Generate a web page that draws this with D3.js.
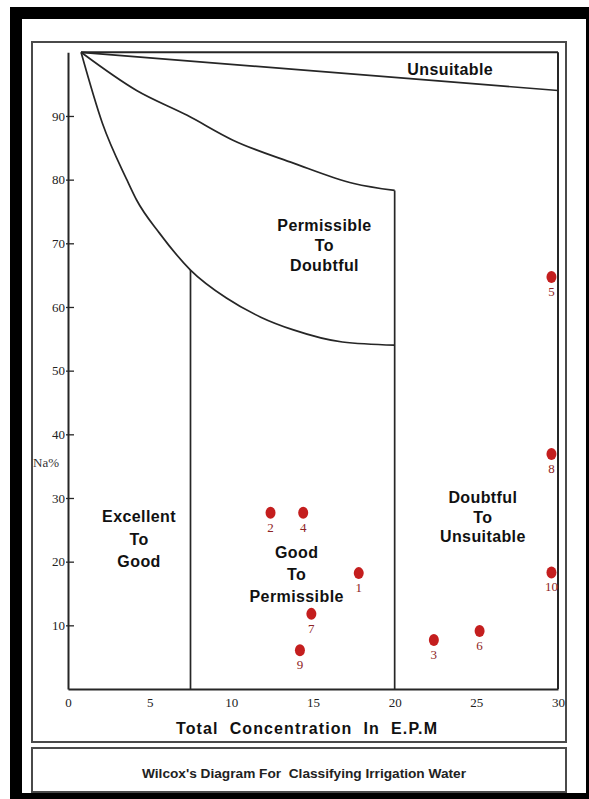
<!DOCTYPE html>
<html>
<head>
<meta charset="utf-8">
<script src="https://cdn.jsdelivr.net/npm/d3@7/dist/d3.min.js"></script>
<style>
  html, body { margin: 0; padding: 0; background: #fff; }
  svg { display: block; }
</style>
</head>
<body>
<svg id="chart" width="589" height="799"></svg>
<script>
// ---- Data -------------------------------------------------------------
// Sample numbers
const sampleIds = ["1", "2", "3", "4", "5", "6", "7", "8", "9", "10"];
// Total concentration (E.P.M)
const sampleEpm = [17.8, 12.4, 22.4, 14.4, 29.6, 25.2, 14.9, 29.6, 14.2, 29.6];
// Sodium percentage
const sampleNa = [18.2, 27.7, 7.7, 27.7, 64.7, 9.1, 11.8, 36.9, 6.1, 18.3];

// Class boundaries, as [E.P.M, Na%] pairs
const unsuitableLine = [[0.8, 100], [30, 94]];
const upperCurve = [[0.8, 100], [4.2, 94.0], [7.3, 90.1], [10.1, 86.2], [13.8, 82.6], [17.5, 79.4], [20, 78.3]];
const lowerCurve = [[0.8, 100], [2.1, 88.9], [3.6, 80.0], [4.2, 76.8], [5.6, 71.6], [7.5, 65.8], [9.7, 61.4],
                    [11.8, 58.4], [13.8, 56.4], [16.8, 54.5], [20, 54.0]];
const goodLimitEpm = 7.5;
const permissibleLimitEpm = 20;

// Axis ticks
const xTicks = [0, 5, 10, 15, 20, 25, 30];
const yTicks = [10, 20, 30, 40, 50, 60, 70, 80, 90];

// Class names (one entry per line)
const classNames = [
  ["Unsuitable"],
  ["Permissible", "To", "Doubtful"],
  ["Excellent", "To", "Good"],
  ["Good", "To", "Permissible"],
  ["Doubtful", "To", "Unsuitable"]
];

const xTitle = "Total  Concentration  In  E.P.M";
const yTitle = "Na%";
const caption = "Wilcox's Diagram For  Classifying Irrigation Water";

// ---- Layout -------------------------------------------------------------
// Anchor of each class name block: [E.P.M, Na% of first baseline, line gap px]
const classAnchors = [
  [30 - 6.6, 96.5, 0],
  [15.7, 72.0, 20],
  [4.35, 26.2, 22.5],
  [14.0, 20.6, 22],
  [25.4, 29.2, 19.5]
];

const svg = d3.select("#chart");

const x = d3.scaleLinear().domain([0, 30]).range([68, 558]);
const y = d3.scaleLinear().domain([0, 100]).range([689, 52.3]);

// Black photo frame
svg.append("rect").attr("x", 10).attr("y", 7).attr("width", 600).attr("height", 800).attr("fill", "#000");
svg.append("rect").attr("x", 22).attr("y", 19).attr("width", 564).attr("height", 774).attr("fill", "#fff");

// Outer boxes
svg.append("rect").attr("x", 32).attr("y", 42).attr("width", 534).attr("height", 700)
  .attr("fill", "none").attr("stroke", "#4a4a4a").attr("stroke-width", 2);
svg.append("rect").attr("x", 32).attr("y", 748).attr("width", 534).attr("height", 44)
  .attr("fill", "none").attr("stroke", "#4a4a4a").attr("stroke-width", 2);

const ink = "#262626";

// Y axis
const yAxis = d3.axisLeft(y).tickValues(yTicks).tickSize(-6).tickSizeOuter(0).tickPadding(3).tickFormat(d3.format("d"));
const gy = svg.append("g").attr("transform", `translate(${x(0)},0)`).call(yAxis);
gy.select(".domain").attr("stroke", ink).attr("stroke-width", 2);
gy.selectAll(".tick line").attr("x1", -2).attr("stroke", ink).attr("stroke-width", 1.3);
gy.selectAll(".tick text").attr("font-family", "'Liberation Serif', 'DejaVu Serif', serif")
  .attr("font-size", 13).attr("fill", "#222");

// X axis
const xAxis = d3.axisBottom(x).tickValues(xTicks).tickSize(0).tickSizeOuter(0).tickPadding(9).tickFormat(d3.format("d"));
const gx = svg.append("g").attr("transform", `translate(0,${y(0)})`).call(xAxis);
gx.select(".domain").attr("stroke", ink).attr("stroke-width", 2);
gx.selectAll(".tick text").attr("font-family", "'Liberation Serif', 'DejaVu Serif', serif")
  .attr("font-size", 13).attr("fill", "#222");

// Plot frame: top and right edges
const line = d3.line().x(d => x(d[0])).y(d => y(d[1]));
svg.append("path").datum([[0.8, 100], [30, 100]]).attr("d", line)
  .attr("fill", "none").attr("stroke", ink).attr("stroke-width", 2);
svg.append("path").datum([[30, 100], [30, 0]]).attr("d", line)
  .attr("fill", "none").attr("stroke", ink).attr("stroke-width", 2);

// Boundaries
const curve = d3.line().x(d => x(d[0])).y(d => y(d[1])).curve(d3.curveMonotoneX);
[unsuitableLine, upperCurve, lowerCurve].forEach(pts => {
  svg.append("path").datum(pts).attr("d", curve)
    .attr("fill", "none").attr("stroke", ink).attr("stroke-width", 1.7);
});
const lowerAt = e => lowerCurve.find(p => p[0] === e)[1];
svg.append("path").datum([[goodLimitEpm, lowerAt(goodLimitEpm)], [goodLimitEpm, 0]]).attr("d", line)
  .attr("fill", "none").attr("stroke", ink).attr("stroke-width", 1.7);
svg.append("path").datum([[permissibleLimitEpm, upperCurve[upperCurve.length - 1][1]], [permissibleLimitEpm, 0]]).attr("d", line)
  .attr("fill", "none").attr("stroke", ink).attr("stroke-width", 1.7);

// Class names
classNames.forEach((lines, i) => {
  const [ex, ny, gap] = classAnchors[i];
  const t = svg.append("text")
    .attr("font-family", "'Liberation Sans', Arial, sans-serif")
    .attr("font-weight", "bold").attr("font-size", 16)
    .attr("letter-spacing", 0.4).attr("fill", "#111")
    .attr("text-anchor", "middle");
  lines.forEach((s, k) => {
    t.append("tspan").attr("x", x(ex)).attr("y", y(ny) + k * gap).text(s);
  });
});

// Axis titles
svg.append("text").attr("x", 176).attr("y", 734)
  .attr("font-family", "'Liberation Sans', Arial, sans-serif").attr("font-weight", "bold")
  .attr("font-size", 16).attr("fill", "#111").style("white-space", "pre")
  .attr("textLength", 261).attr("lengthAdjust", "spacing").text(xTitle);
svg.append("text").attr("x", 33).attr("y", y(35.5) + 4)
  .attr("font-family", "'Liberation Serif', 'DejaVu Serif', serif")
  .attr("font-size", 13).attr("fill", "#333").text(yTitle);

// Caption
svg.append("text").attr("x", 142).attr("y", 778)
  .attr("font-family", "'Liberation Sans', Arial, sans-serif").attr("font-weight", "bold")
  .attr("font-size", 12).attr("fill", "#222").style("white-space", "pre")
  .attr("textLength", 324).attr("lengthAdjust", "spacingAndGlyphs").text(caption);

// Samples
const samples = sampleIds.map((id, i) => ({ id, epm: sampleEpm[i], na: sampleNa[i] }));
const g = svg.append("g");
g.selectAll("ellipse").data(samples).join("ellipse")
  .attr("cx", d => x(d.epm)).attr("cy", d => y(d.na))
  .attr("rx", 5).attr("ry", 6).attr("fill", "#c41e1e");
g.selectAll("text").data(samples).join("text")
  .attr("x", d => x(d.epm)).attr("y", d => y(d.na) + 19)
  .attr("text-anchor", "middle")
  .attr("font-family", "'Liberation Serif', 'DejaVu Serif', serif")
  .attr("font-size", 13).attr("fill", "#8e2424").text(d => d.id);
</script>
</body>
</html>
